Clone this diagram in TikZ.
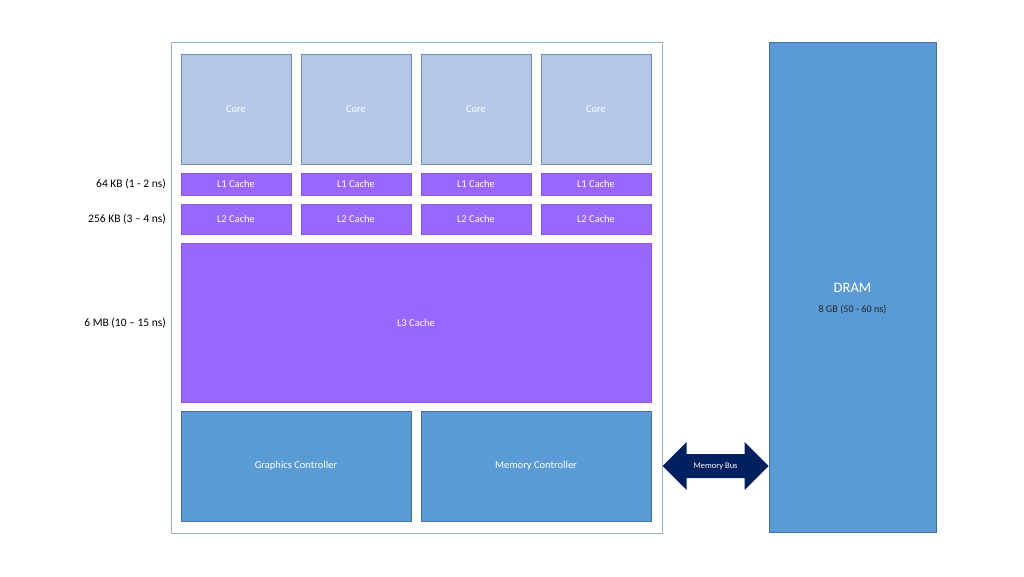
\documentclass[tikz,border=0pt]{standalone}
\usepackage{fontspec}
\setmainfont{Carlito}
\usetikzlibrary{calc}
\definecolor{corefill}{HTML}{B4C7E7}
\definecolor{coreline}{HTML}{6F8DB8}
\definecolor{cachefill}{HTML}{9966FF}
\definecolor{cacheline}{HTML}{8A55E8}
\definecolor{ctrlfill}{HTML}{5B9BD5}
\definecolor{ctrlline}{HTML}{41719C}
\definecolor{chipline}{HTML}{9AAFC8}
\definecolor{busfill}{HTML}{002060}
\tikzset{
  box/.style={draw, line width=0.8pt, inner sep=0pt, text=white,
    font=\fontsize{10.5}{12}\selectfont},
  core/.style={box, fill=corefill, draw=coreline, minimum width=110pt, minimum height=110pt},
  lcache/.style={box, fill=cachefill, draw=cacheline, minimum width=110pt},
  ctrl/.style={box, fill=ctrlfill, draw=ctrlline},
  size/.style={anchor=east, inner sep=0pt, font=\fontsize{11.5}{13}\selectfont}
}
\begin{document}
\begin{tikzpicture}[x=1pt,y=-1pt]
\useasboundingbox (0,0) rectangle (1024,576);
\node[draw=chipline, line width=1pt, minimum width=491pt, minimum height=491pt] (chip) at (416.5,287.5) {};
\foreach \i/\x in {1/236,2/356,3/476,4/596} {
  \node[core] (core\i) at (\x,109) {Core};
  \node[lcache, minimum height=22pt] (lone\i) at (\x,184) {L1 Cache};
  \node[lcache, minimum height=30pt] (ltwo\i) at (\x,219) {L2 Cache};
}
\node[lcache, minimum width=470pt, minimum height=159pt] (lthree) at (416,322.5) {L3 Cache};
\node[ctrl, minimum width=230pt, minimum height=110pt] (gc) at (296,466) {Graphics Controller};
\node[ctrl, minimum width=230pt, minimum height=110pt] (mc) at (536,466) {Memory Controller};
\node[ctrl, minimum width=167pt, minimum height=490pt] (dram) at (852.5,287) {};
\node[text=white, font=\fontsize{14.5}{16}\selectfont] (dramname) at (852.5,288) {DRAM};
\node[text=black!85, font=\fontsize{10.2}{12}\selectfont] (dramsize) at (852.5,309.5) {8 GB (50 - 60 ns)};
% size labels
\node[size] (sone) at (166,184.5) {64 KB (1 - 2 ns)};
\node[size] (stwo) at (166,219.5) {256 KB (3 -- 4 ns)};
\node[size] (sthree) at (166,323.5) {6 MB (10 -- 15 ns)};
% memory bus
\coordinate (busl) at (chip.east |- mc);
\coordinate (busr) at (dram.west |- mc);
\fill[busfill] (busl) -- ++(24,-24) -- ++(0,12) -- ($(busr)+(-24,-12)$) -- ++(0,-12) -- (busr)
  -- ++(-24,24) -- ++(0,-12) -- ($(busl)+(24,12)$) -- ++(0,12) -- cycle;
\node[text=white, font=\fontsize{8.5}{10}\selectfont] (bus) at ($(busl)!0.5!(busr)$) {Memory Bus};
\end{tikzpicture}
\end{document}
